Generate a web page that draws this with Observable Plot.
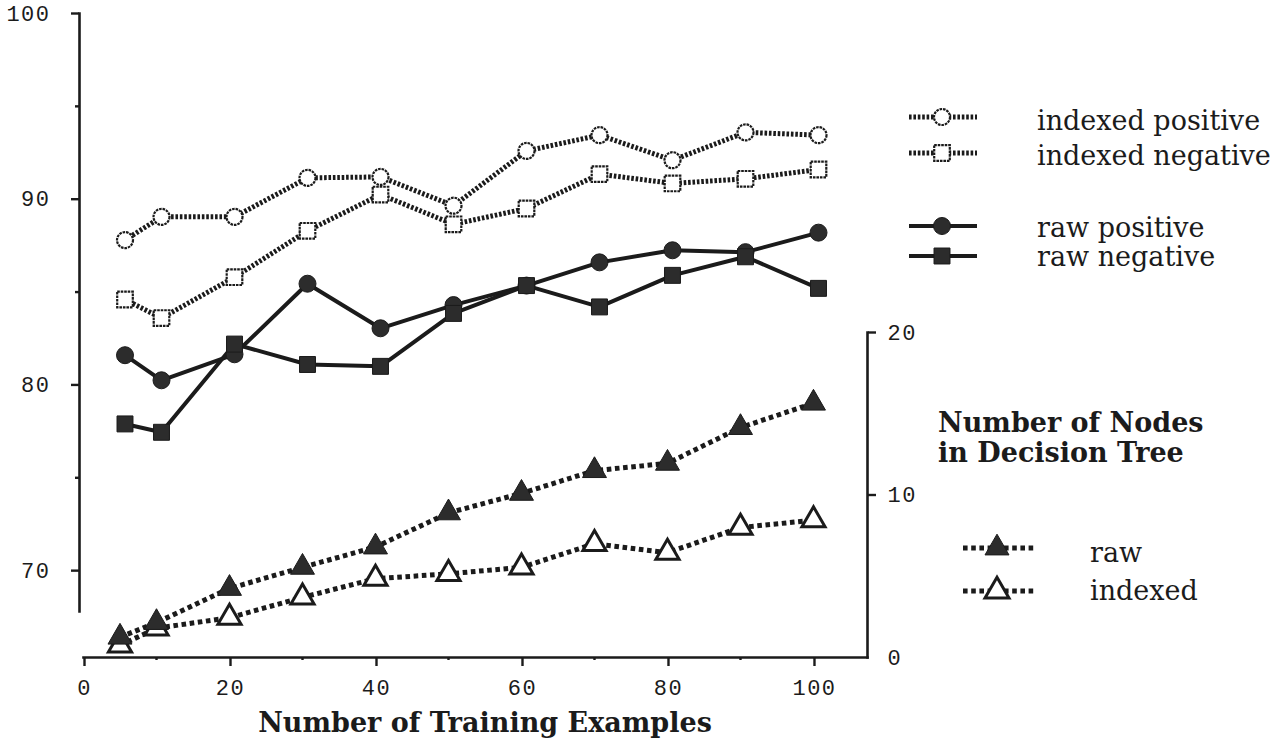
<!DOCTYPE html>
<html><head><meta charset="utf-8">
<script src="https://cdn.jsdelivr.net/npm/d3@7"></script>
<script src="https://cdn.jsdelivr.net/npm/@observablehq/plot@0.6"></script>
<style>
body{margin:0;background:#fff;}
#chart{position:relative;width:1285px;height:744px;overflow:hidden;background:#fff;}
#chart svg{position:absolute;left:0;top:0;}
</style></head><body><div id="chart"></div>
<script>
// ---- data ----
const trainingExamples = [5, 10, 20, 30, 40, 50, 60, 70, 80, 90, 100];
const indexedPositive = [87.8, 89.05, 89.05, 91.15, 91.2, 89.65, 92.6, 93.45, 92.1, 93.6, 93.45];
const indexedNegative = [84.6, 83.6, 85.8, 88.3, 90.25, 88.65, 89.5, 91.35, 90.85, 91.1, 91.6];
const rawPositive = [81.6, 80.25, 81.65, 85.45, 83.05, 84.3, 85.35, 86.6, 87.25, 87.15, 88.2];
const rawNegative = [77.9, 77.45, 82.2, 81.1, 81.0, 83.85, 85.35, 84.2, 85.9, 86.9, 85.2];
const nodesRaw = [1.25, 2.15, 4.25, 5.55, 6.8, 8.9, 10.1, 11.5, 11.95, 14.15, 15.65];
const nodesIndexed = [0.75, 1.8, 2.45, 3.7, 4.85, 5.15, 5.55, 7.0, 6.45, 8.0, 8.45];
const accuracyTicks = [70, 80, 90, 100];
const accuracyMinorTicks = [75, 85, 95];
const exampleTicks = [0, 20, 40, 60, 80, 100];
const exampleMinorTicks = [10, 30, 50, 70, 90];
const nodeTicks = [10, 20];
const legendAccuracy = ["indexed positive", "indexed negative", "raw positive", "raw negative"];
const legendNodes = ["raw", "indexed"];
const xTitle = "Number of Training Examples";
const nodesTitle = ["Number of Nodes", "in Decision Tree"];

const rows = vals => trainingExamples.map((x, i) => ({x, y: vals[i]}));
const ink = "#1b1b1b";
const dark = "#2c2c2c";
const monoStyle = {background: "transparent", fontFamily: "'Liberation Mono', monospace", fontSize: "22px", letterSpacing: "1.5px", color: ink, overflow: "visible"};

const dotLine = {stroke: ink, strokeWidth: 5, strokeDasharray: "2.6,1.8", strokeLinecap: "butt"};
const solidLine = {stroke: ink, strokeWidth: 4};
const triLine = {stroke: ink, strokeWidth: 5, strokeDasharray: "4.6,3.6", strokeLinecap: "butt"};
const openMark = {fill: "white", stroke: ink, strokeWidth: 2.2, strokeDasharray: "2.6,0.9"};

// ---- node plot (bottom & right axes) ----
const plotB = Plot.plot({
  width: 1285, height: 744,
  marginLeft: 83, marginRight: 418, marginTop: 332, marginBottom: 87,
  x: {domain: [0, 107.4], axis: null},
  y: {domain: [0, 20], axis: null},
  style: monoStyle,
  marks: [
    Plot.frame({anchor: "bottom", stroke: ink, strokeWidth: 2.6}),
    Plot.frame({anchor: "right", stroke: ink, strokeWidth: 2.6}),
    Plot.axisX({ticks: exampleTicks, tickSize: 9, tickPadding: 13, tickFormat: d => String(d), label: null, strokeWidth: 2.4, dx: 1, fill: ink}),
    Plot.axisX({ticks: exampleMinorTicks, tickSize: 3, tickFormat: () => "", label: null, strokeWidth: 2.4}),
    Plot.axisY({anchor: "right", ticks: nodeTicks, tickSize: 8, tickPadding: 12, tickFormat: d => String(d), label: null, strokeWidth: 2.4, fill: ink}),
    Plot.axisY({anchor: "right", ticks: [0], tickSize: 0, tickPadding: 20, tickFormat: d => String(d), label: null, fill: ink}),
    Plot.line(rows(nodesRaw), {x: "x", y: "y", ...triLine}),
    Plot.line(rows(nodesIndexed), {x: "x", y: "y", ...triLine}),
    Plot.dot(rows(nodesIndexed), {x: "x", y: "y", symbol: "triangle", r: 8.6, fill: "white", stroke: ink, strokeWidth: 3}),
    Plot.dot(rows(nodesRaw), {x: "x", y: "y", symbol: "triangle", r: 8.9, fill: dark, stroke: ink, strokeWidth: 1})
  ]
});

// ---- accuracy plot (left axis) ----
const plotA = Plot.plot({
  width: 1285, height: 744,
  marginLeft: 79, marginRight: 0, marginTop: 13, marginBottom: 133,
  x: {domain: [0, 100], range: [88, 818], axis: null},
  y: {domain: [67.8, 100], axis: null},
  style: monoStyle,
  marks: [
    Plot.frame({anchor: "left", stroke: ink, strokeWidth: 2.6}),
    Plot.axisY({ticks: accuracyTicks, tickSize: 8, tickPadding: 21, tickFormat: d => String(d), label: null, strokeWidth: 2.4, fill: ink}),
    Plot.axisY({ticks: accuracyMinorTicks, tickSize: 4, tickFormat: () => "", label: null, strokeWidth: 2.4}),
    Plot.line(rows(indexedPositive), {x: "x", y: "y", ...dotLine}),
    Plot.line(rows(indexedNegative), {x: "x", y: "y", ...dotLine}),
    Plot.line(rows(rawPositive), {x: "x", y: "y", ...solidLine}),
    Plot.line(rows(rawNegative), {x: "x", y: "y", ...solidLine}),
    Plot.dot(rows(indexedPositive), {x: "x", y: "y", symbol: "circle", r: 8, ...openMark}),
    Plot.dot(rows(indexedNegative), {x: "x", y: "y", symbol: "square", r: 8.8, ...openMark}),
    Plot.dot(rows(rawPositive), {x: "x", y: "y", symbol: "circle", r: 8.5, fill: dark, stroke: ink, strokeWidth: 1}),
    Plot.dot(rows(rawNegative), {x: "x", y: "y", symbol: "square", r: 9, fill: dark, stroke: ink, strokeWidth: 1})
  ]
});

const chart = document.getElementById("chart");
chart.appendChild(plotB);
chart.appendChild(plotA);

// ---- legends & titles ----
const svg = d3.create("svg").attr("width", 1285).attr("height", 744);
const serif = "'DejaVu Serif', serif";
const sym = (type, r) => d3.symbol(type, Math.PI * r * r)();

const accLegend = [
  {y: 117, ty: 130, line: dotLine, type: d3.symbolCircle, r: 8, open: true},
  {y: 153, ty: 165, line: dotLine, type: d3.symbolSquare, r: 8.8, open: true},
  {y: 226, ty: 237, line: solidLine, type: d3.symbolCircle, r: 8.5, open: false},
  {y: 256, ty: 266, line: solidLine, type: d3.symbolSquare, r: 9, open: false}
];
accLegend.forEach((d, i) => {
  const g = svg.append("g");
  g.append("line").attr("x1", 909).attr("x2", 977).attr("y1", d.y).attr("y2", d.y)
    .attr("stroke", ink).attr("stroke-width", d.line.strokeWidth).attr("stroke-dasharray", d.line.strokeDasharray || null);
  const p = g.append("path").attr("d", sym(d.type, d.r)).attr("transform", `translate(942,${d.y})`);
  if (d.open) p.attr("fill", "white").attr("stroke", ink).attr("stroke-width", openMark.strokeWidth).attr("stroke-dasharray", openMark.strokeDasharray);
  else p.attr("fill", dark).attr("stroke", ink);
  g.append("text").attr("x", 1037).attr("y", d.ty).attr("font-family", serif).attr("font-size", 27).attr("fill", ink).text(legendAccuracy[i]);
});

const nodeLegend = [
  {y: 548, ty: 562, open: false},
  {y: 591, ty: 600, open: true}
];
nodeLegend.forEach((d, i) => {
  const g = svg.append("g");
  g.append("line").attr("x1", 963).attr("x2", 1034).attr("y1", d.y).attr("y2", d.y)
    .attr("stroke", ink).attr("stroke-width", triLine.strokeWidth).attr("stroke-dasharray", triLine.strokeDasharray);
  const p = g.append("path").attr("d", sym(d3.symbolTriangle, 8.9)).attr("transform", `translate(997,${d.y})`);
  if (d.open) p.attr("fill", "white").attr("stroke", ink).attr("stroke-width", 3);
  else p.attr("fill", dark).attr("stroke", ink);
  g.append("text").attr("x", 1090).attr("y", d.ty).attr("font-family", serif).attr("font-size", 27).attr("fill", ink).text(legendNodes[i]);
});

nodesTitle.forEach((t, i) => {
  svg.append("text").attr("x", 938).attr("y", 432 + i * 30).attr("font-family", serif).attr("font-weight", "bold")
    .attr("font-size", 27).attr("fill", ink).text(t);
});
svg.append("text").attr("x", 485).attr("y", 732).attr("text-anchor", "middle").attr("font-family", serif)
  .attr("font-weight", "bold").attr("font-size", 27).attr("fill", ink).text(xTitle);

chart.appendChild(svg.node());
</script>
</body></html>
